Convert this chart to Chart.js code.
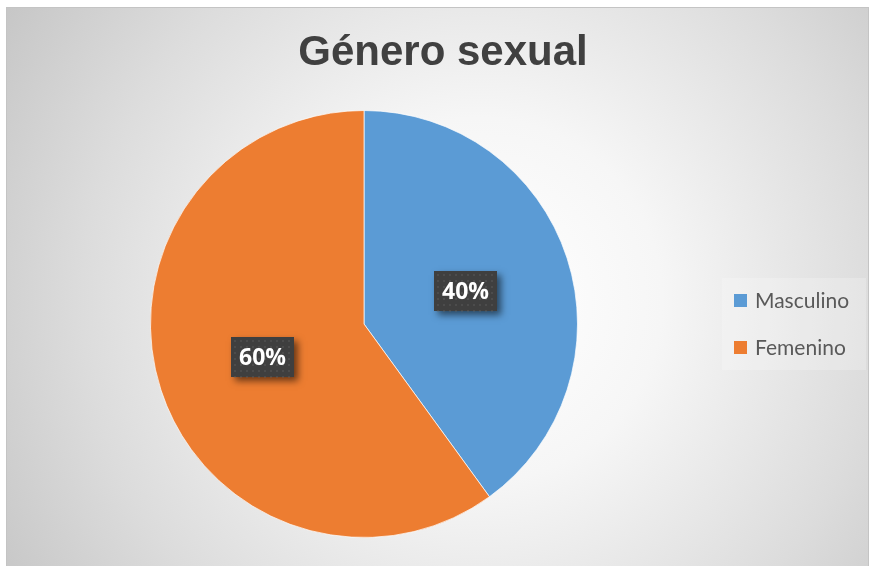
<!DOCTYPE html>
<html>
<head>
<meta charset="utf-8">
<script src="https://cdn.jsdelivr.net/npm/chart.js@4/dist/chart.umd.min.js"></script>
<style>
  html, body { margin: 0; padding: 0; background: #ffffff; }
  #wrap { width: 872px; height: 566px; position: relative; }
</style>
</head>
<body>
<div id="wrap"><canvas id="c" width="872" height="566"></canvas></div>
<script>
// Chart data
const chartTitle = 'Género sexual';
const categories = ['Masculino', 'Femenino'];
const shares = [40, 60];
const sliceColors = ['#5B9BD5', '#ED7D31'];

// Panel background: soft radial gradient with a thin frame
const panelBackground = {
  id: 'panelBackground',
  beforeDraw(chart) {
    const ctx = chart.ctx;
    const x0 = 6, y0 = 7, x1 = 869, y1 = 566;
    ctx.save();
    const g = ctx.createRadialGradient(480, 300, 20, 480, 300, 560);
    g.addColorStop(0, '#ffffff');
    g.addColorStop(0.3, '#f6f6f6');
    g.addColorStop(0.7, '#dcdcdc');
    g.addColorStop(1, '#c6c6c6');
    ctx.fillStyle = g;
    ctx.fillRect(x0, y0, x1 - x0, y1 - y0);
    ctx.strokeStyle = '#c4c4c4';
    ctx.lineWidth = 1;
    ctx.strokeRect(x0 + 0.5, y0 + 0.5, x1 - x0 - 1, y1 - y0);
    ctx.restore();
  }
};

// Title and legend drawn as text on the canvas
const titleAndLegend = {
  id: 'titleAndLegend',
  afterDraw(chart) {
    const ctx = chart.ctx;
    ctx.save();
    ctx.fillStyle = '#404040';
    ctx.font = 'bold 42px "Liberation Sans", Arial, sans-serif';
    ctx.textAlign = 'center';
    ctx.textBaseline = 'middle';
    ctx.fillText(chartTitle, 443, 53);

    // legend panel
    ctx.fillStyle = 'rgba(255,255,255,0.22)';
    ctx.fillRect(722, 278, 144, 92);
    ctx.font = '21px Lato, "Open Sans", sans-serif';
    ctx.textAlign = 'left';
    categories.forEach((name, i) => {
      const y = 300 + i * 47;
      ctx.fillStyle = sliceColors[i];
      ctx.fillRect(734, y - 6, 13, 13);
      ctx.fillStyle = '#595959';
      ctx.fillText(name, 755, y + 1);
    });
    ctx.restore();
  }
};

// Percentage labels in dark patterned boxes at the middle of each slice
const sliceLabels = {
  id: 'sliceLabels',
  afterDatasetsDraw(chart) {
    const ctx = chart.ctx;
    const meta = chart.getDatasetMeta(0);
    const total = shares.reduce((a, b) => a + b, 0);
    ctx.save();
    meta.data.forEach((arc, i) => {
      const p = arc.getCenterPoint();
      const text = Math.round(shares[i] / total * 100) + '%';
      const w = 63, h = 40;
      const bx = Math.round(p.x - w / 2), by = Math.round(p.y - h / 2);
      // drop shadow
      ctx.save();
      ctx.shadowColor = 'rgba(0,0,0,0.55)';
      ctx.shadowBlur = 7;
      ctx.shadowOffsetX = 4;
      ctx.shadowOffsetY = 4;
      ctx.fillStyle = '#3f3f3f';
      ctx.fillRect(bx, by, w, h);
      ctx.restore();
      // faint dotted texture
      ctx.fillStyle = 'rgba(100,100,100,0.35)';
      for (let yy = by + 3; yy < by + h; yy += 6) {
        for (let xx = bx + 3; xx < bx + w; xx += 6) {
          ctx.fillRect(xx, yy, 2, 2);
        }
      }
      ctx.fillStyle = '#ffffff';
      ctx.font = 'bold 23px "Open Sans", "Liberation Sans", sans-serif';
      ctx.textAlign = 'center';
      ctx.textBaseline = 'middle';
      ctx.fillText(text, bx + w / 2, by + h / 2 + 1);
    });
    ctx.restore();
  }
};

new Chart(document.getElementById('c'), {
  type: 'pie',
  data: {
    labels: categories,
    datasets: [{
      data: shares,
      backgroundColor: sliceColors,
      borderColor: 'rgba(255,255,255,0.7)',
      borderWidth: 1
    }]
  },
  options: {
    responsive: false,
    animation: false,
    layout: { padding: { top: 110, bottom: 28, left: 150, right: 294 } },
    plugins: {
      legend: { display: false },
      title: { display: false },
      tooltip: { enabled: false }
    }
  },
  plugins: [panelBackground, sliceLabels, titleAndLegend]
});
</script>
</body>
</html>
